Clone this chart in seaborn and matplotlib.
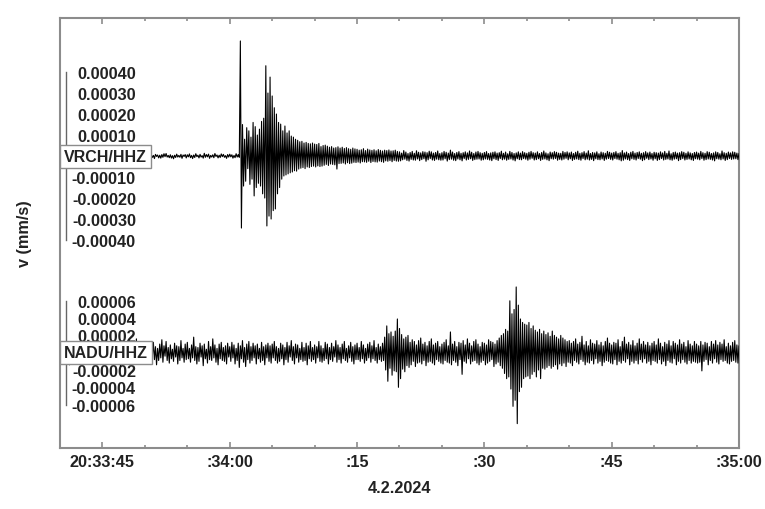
import numpy as np
import pandas as pd
import matplotlib.pyplot as plt
from matplotlib.ticker import FixedLocator, MultipleLocator, NullFormatter
import seaborn as sns

# ==========================================
# Data
# traces start at 20:33:40, one value every 0.125 s, in 1e-6 mm/s
# (one row = 5 seconds)

sample_step = 0.125

vrch_values = [
    4, -6, 2, -9, 11, -3, 5, -7, 12, -8, 3, -5, 9, -2, 10, -13, 6, -5, 2, -9, 4, -7, 8, -3, 6, -11, 5, -4, 3, -10, 7, -2, 13, -6, 9, -4, 2, -8, 5, -3,
    8, -3, 7, -5, 11, -12, 2, -4, 6, -10, 3, -6, 13, -2, 7, -9, 4, -5, 10, -3, 5, -8, 2, -11, 9, -4, 6, -7, 3, -12, 10, -2, 5, -6, 11, -10, 3, -7, 6, -4,
    9, -5, 2, -11, 14, -4, 6, -7, 3, -12, 8, -2, 5, -9, 4, -10, 7, -6, 11, -3, 12, -5, 3, -8, 6, -10, 2, -13, 4, -7, 9, -5, 3, -6, 8, -11, 5, -2, 7, -9,
    6, -4, 10, -8, 3, -12, 5, -7, 11, -3, 4, -9, 8, -5, 2, -10, 13, -6, 7, -4, 9, -11, 3, -5, 6, -8, 12, -2, 5, -9, 4, -7, 10, -3, 8, -6, 2, -11, 7, -5,
    9, -4, 6, -10, 3, -8, 11, -5, 7, -6, 548, -343, 150, -143, 80, -120, 135, -60, 120, -135, 90, -110, 160, -190, 140, -150, 100, -130, 128, -143, 165, -180, 180, -200, 430, -333, 300, -286, 376, -300,
    286, -260, 230, -252, 200, -180, 160, -150, 152, -110, 120, -95, 143, -90, 110, -85, 120, -80, 95, -76, 90, -70, 80, -72, 75, -62, 68, -58, 70, -55, 62, -60, 65, -52, 60, -55, 58, -50, 62, -48,
    57, -52, 55, -47, 60, -50, 45, -48, 50, -44, 52, -40, 47, -45, 42, -38, 45, -40, 38, -42, 40, -62, 44, -36, 38, -35, 42, -33, 36, -38, 40, -32, 35, -36, 32, -34, 38, -30, 34, -31,
    32, -29, 28, -33, 30, -27, 35, -28, 26, -30, 33, -25, 29, -31, 27, -26, 30, -28, 25, -29, 31, -24, 27, -27, 24, -30, 28, -23, 26, -25, 29, -22, 24, -27, 25, -21, 28, -24, 22, -25,
    20, -23, 14, -18, 26, -15, 19, -21, 12, -24, 17, -16, 22, -19, 13, -20, 25, -14, 18, -22, 15, -17, 21, -13, 19, -25, 16, -18, 23, -12, 20, -19, 14, -21, 17, -15, 24, -18, 12, -20,
    16, -19, 22, -13, 18, -24, 14, -17, 28, -15, 19, -20, 12, -22, 17, -14, 21, -18, 13, -23, 16, -12, 20, -19, 15, -16, 24, -13, 18, -21, 12, -17, 19, -15, 22, -14, 16, -20, 13, -18,
    17, -14, 21, -16, 12, -19, 15, -22, 18, -13, 20, -17, 14, -21, 16, -12, 23, -18, 13, -15, 19, -20, 11, -16, 22, -14, 17, -19, 12, -23, 15, -13, 20, -17, 14, -18, 21, -12, 16, -15,
    13, -20, 18, -15, 22, -11, 16, -19, 14, -17, 20, -13, 12, -21, 17, -16, 24, -14, 15, -18, 11, -22, 19, -13, 16, -15, 21, -12, 18, -20, 14, -16, 13, -19, 22, -15, 17, -11, 20, -18,
    15, -13, 19, -21, 12, -16, 18, -14, 23, -17, 13, -20, 16, -12, 21, -18, 14, -15, 25, -19, 12, -16, 17, -22, 15, -13, 20, -17, 11, -18, 19, -14, 16, -21, 13, -15, 22, -12, 18, -16,
    14, -19, 17, -12, 21, -15, 13, -18, 16, -23, 26, -20, 15, -14, 19, -17, 12, -21, 18, -13, 22, -16, 14, -19, 17, -12, 20, -15, 13, -22, 16, -18, 21, -11, 15, -17, 19, -14, 12, -20,
    18, -13, 16, -21, 14, -17, 20, -12, 15, -19, 22, -16, 13, -14, 24, -18, 11, -20, 17, -15, 19, -13, 14, -22, 16, -17, 21, -12, 18, -19, 13, -16, 20, -14, 15, -18, 12, -21, 17, -13,
    19, -15, 14, -18, 22, -12, 16, -20, 13, -17, 21, -14, 18, -16, 12, -19, 15, -23, 20, -13, 17, -15, 11, -18, 24, -14, 16, -21, 13, -17, 19, -12, 15, -16, 20, -14, 18, -13, 14, -17,
    12,
]

nadu_values = [
    5, -9, 8, -12, 6, -3, 10, -11, 4, -14, 7, -6, 11, -8, 3, -9, 13, -5, 7, -10, 9, -4, 12, -7, 5, -11, 8, -13, 6, -4, 10, -8, 3, -12, 9, -6, 14, -9, 5, -7,
    8, -11, 6, -5, 15, -9, 7, -6, 10, -13, 4, -9, 12, -5, 8, -11, 6, -16, 9, -4, 11, -7, 5, -10, 13, -8, 7, -12, 4, -6, 10, -9, 16, -7, 5, -11, 9, -4, 12, -8,
    6, -10, 11, -7, 4, -13, 9, -5, 12, -8, 7, -14, 5, -9, 10, -6, 15, -11, 8, -4, 13, -9, 6, -12, 9, -7, 4, -10, 11, -5, 8, -13, 7, -9, 14, -6, 5, -11, 10, -8,
    12, -7, 5, -11, 9, -6, 18, -9, 7, -13, 6, -10, 11, -5, 8, -15, 10, -7, 4, -12, 13, -8, 7, -9, 16, -6, 9, -11, 5, -14, 10, -7, 12, -9, 6, -10, 8, -13, 11, -5,
    7, -10, 12, -6, 9, -13, 5, -9, 11, -17, 8, -7, 14, -11, 6, -16, 10, -8, 13, -12, 7, -9, 11, -6, 8, -13, 10, -7, 5, -11, 12, -9, 7, -14, 9, -6, 11, -10, 8, -12,
    10, -6, 13, -9, 7, -12, 5, -10, 11, -7, 9, -14, 6, -8, 12, -11, 8, -5, 14, -9, 7, -13, 10, -6, 9, -11, 5, -8, 12, -10, 6, -9, 11, -14, 8, -7, 13, -10, 6, -8,
    9, -12, 7, -6, 13, -10, 8, -11, 5, -9, 12, -7, 10, -13, 6, -8, 11, -10, 7, -5, 14, -11, 9, -8, 6, -12, 10, -7, 13, -9, 5, -11, 8, -6, 12, -10, 7, -13, 9, -8,
    11, -8, 6, -10, 13, -7, 9, -12, 5, -9, 10, -6, 12, -11, 8, -7, 14, -9, 6, -12, 10, -8, 7, -10, 11, -9, 18, -20, 31, -33, 22, -18, 24, -26, 19, -21, 25, -22, 39, -40,
    28, -30, 21, -19, 16, -22, 18, -15, 20, -17, 12, -14, 15, -10, 13, -16, 9, -12, 14, -11, 17, -13, 10, -9, 12, -15, 8, -11, 13, -10, 16, -12, 9, -14, 11, -8, 13, -10, 7, -12,
    10, -13, 12, -9, 15, -11, 8, -12, 24, -14, 10, -9, 13, -11, 7, -15, 12, -8, 11, -25, 14, -10, 9, -12, 16, -7, 11, -13, 8, -10, 13, -9, 15, -12, 10, -14, 7, -11, 12, -9,
    11, -14, 9, -12, 15, -10, 13, -8, 12, -16, 10, -13, 14, -11, 17, -15, 20, -18, 22, -24, 27, -30, 25, -28, 60, -42, 45, -62, 50, -55, 76, -82, 55, -45, 39, -40, 35, -30, 33, -28,
    32, -27, 35, -30, 28, -25, 31, -22, 26, -28, 24, -20, 27, -30, 22, -18, 25, -19, 21, -17, 23, -15, 19, -18, 25, -16, 20, -14, 18, -19, 16, -13, 20, -15, 17, -12, 15, -16, 13, -11,
    14, -12, 11, -15, 13, -9, 16, -11, 10, -13, 12, -8, 19, -10, 9, -14, 13, -11, 8, -12, 15, -9, 11, -13, 10, -7, 14, -12, 9, -10, 12, -15, 8, -11, 13, -9, 17, -10, 11, -12,
    9, -13, 12, -8, 11, -14, 15, -10, 7, -12, 13, -9, 18, -11, 10, -7, 12, -14, 9, -10, 14, -12, 8, -9, 11, -13, 16, -8, 10, -11, 13, -7, 9, -12, 12, -10, 8, -14, 11, -9,
    13, -10, 9, -12, 16, -8, 11, -13, 7, -10, 12, -15, 10, -9, 14, -11, 8, -12, 13, -7, 11, -14, 9, -10, 15, -12, 10, -8, 12, -11, 7, -13, 14, -9, 10, -12, 8, -10, 13, -11,
    10, -12, 8, -11, 13, -21, 9, -10, 12, -8, 11, -14, 7, -9, 13, -12, 10, -7, 14, -11, 9, -13, 12, -8, 10, -10, 15, -9, 7, -12, 11, -13, 8, -10, 12, -9, 14, -11, 9, -12,
    8,
]

stations = ["VRCH/HHZ", "NADU/HHZ"]
vrch_ticks = [0.0004, 0.0003, 0.0002, 0.0001, -0.0001, -0.0002, -0.0003, -0.0004]
nadu_ticks = [0.00006, 0.00004, 0.00002, -0.00002, -0.00004, -0.00006]

tick_seconds = [5, 20, 35, 50, 65, 80]
tick_labels = ["20:33:45", ":34:00", ":15", ":30", ":45", ":35:00"]
date_label = "4.2.2024"
y_label = "v (mm/s)"

frames = []
for name, vals in zip(stations, [vrch_values, nadu_values]):
    frames.append(pd.DataFrame({
        "station": name,
        "t": np.arange(len(vals)) * sample_step,
        "v": np.array(vals) * 1e-6,
    }))
df = pd.concat(frames, ignore_index=True)

# ==========================================
# Style

sns.set_theme(style="white")
plt.rcParams["font.family"] = ["Liberation Sans", "DejaVu Sans"]
plt.rcParams["font.weight"] = "bold"
plt.rcParams["axes.labelweight"] = "bold"

frame_col = "#8c8c8c"
text_col = "#222222"
fs = 11.7

fig = plt.figure(figsize=(7.65, 5.1), dpi=100)
pos = [60 / 765, 61 / 510, 679 / 765, 430 / 510]
ax = fig.add_axes(pos)

ax.set_xlim(0, 80)
ax.set_ylim(0, 1)
for s in ax.spines.values():
    s.set_color(frame_col)
    s.set_linewidth(1.5)
ax.xaxis.set_major_locator(FixedLocator(tick_seconds))
ax.set_xticklabels(tick_labels)
ax.xaxis.set_minor_locator(MultipleLocator(5))
ax.xaxis.set_minor_formatter(NullFormatter())
ax.tick_params(axis="x", which="both", direction="in", top=True, bottom=True,
               color=frame_col, width=1.2, labelsize=fs, labelcolor=text_col, pad=4.5)
ax.tick_params(axis="x", which="major", length=4.5)
ax.tick_params(axis="x", which="minor", length=2.5)
ax.set_yticks([])
ax.set_xlabel(date_label, fontsize=fs, color=text_col, labelpad=8)
ax.set_ylabel(y_label, fontsize=fs, color=text_col, labelpad=20)

# each trace gets its own overlay axes: zero line height (fraction) and span of the axes in mm/s
layout = {
    "VRCH/HHZ": (0.679, 2.048e-3, vrch_ticks),
    "NADU/HHZ": (0.2216, 4.971e-4, nadu_ticks),
}

for name in stations:
    frac, span, ticks = layout[name]
    tax = fig.add_axes(pos)
    tax.patch.set_visible(False)
    sns.lineplot(data=df[df["station"] == name], x="t", y="v", ax=tax,
                 color="black", linewidth=0.8, estimator=None, sort=False)
    tax.set_xlim(0, 80)
    tax.set_ylim(-frac * span, (1 - frac) * span)
    tax.set_xlabel("")
    tax.set_ylabel("")
    tax.set_xticks([])
    for side in ["top", "right", "bottom"]:
        tax.spines[side].set_visible(False)
    sp = tax.spines["left"]
    sp.set_position(("outward", -4.3))
    sp.set_bounds(min(ticks), max(ticks))
    sp.set_color("#666666")
    sp.set_linewidth(1.0)
    tax.set_yticks(ticks)
    tax.set_yticklabels([f"{v:.5f}" for v in ticks])
    tax.tick_params(axis="y", direction="in", length=3, width=1.0, color="#666666",
                    pad=-50.4, labelsize=fs, labelcolor=text_col)
    tax.annotate(name, xy=(0, 0), xycoords=("axes fraction", "data"),
                 xytext=(2.9, 0), textcoords="offset points",
                 ha="left", va="center", fontsize=11.5, color=text_col, zorder=10,
                 bbox=dict(boxstyle="square,pad=0.25", fc="white", ec="#8c8c8c", lw=1.0))

plt.savefig("out.png", dpi=100)
